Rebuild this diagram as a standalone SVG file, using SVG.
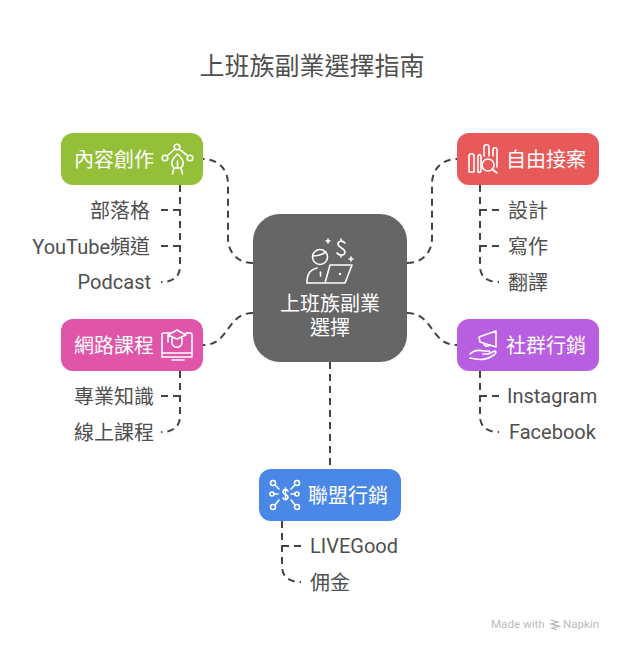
<svg xmlns="http://www.w3.org/2000/svg" width="624" height="652" viewBox="0 0 624 652">
<style>
text{font-family:Roboto,"Noto Sans CJK TC","Noto Sans CJK SC",sans-serif;font-size:20px}
.t{fill:#4f4f4f}
.w{fill:#fff;text-anchor:middle}
.e{text-anchor:end}
.c{fill:none;stroke:#444;stroke-width:2;stroke-dasharray:7 5}
.i{fill:none;stroke:#fff;stroke-width:1.6;stroke-linecap:round;stroke-linejoin:round}
</style>
<rect width="624" height="652" fill="#fff"/>
<text id="title" x="312" y="75" style="font-size:25px;text-anchor:middle" class="t">上班族副業選擇指南</text>
<g id="connectors">
<path class="c" d="M253 263C238 263 228 253 228 238V184C228 169 218 159 203 159"/>
<path class="c" d="M407 263C422 263 432 253 432 238V184C432 169 442 159 457 159"/>
<path class="c" d="M253 313C226 313 230 345 203 345"/>
<path class="c" d="M407 313C434 313 430 345 457 345"/>
<path class="c" d="M330 362V469"/>
<path class="c" d="M180 185V266C180 276 174 282 161 282"/>
<path class="c" d="M180 210H161"/>
<path class="c" d="M180 246H161"/>
<path class="c" d="M480 185V266C480 276 486 282 499 282"/>
<path class="c" d="M480 210H499"/>
<path class="c" d="M480 246H499"/>
<path class="c" d="M180 371V416C180 426 174 432 161 432"/>
<path class="c" d="M180 396H161"/>
<path class="c" d="M480 371V416C480 426 486 432 499 432"/>
<path class="c" d="M480 396H499"/>
<path class="c" d="M282 521V566C282 576 288 582 301 582"/>
<path class="c" d="M282 546H301"/>
</g>
<g id="center">
<rect x="253" y="214" width="154" height="148" rx="27" fill="#666"/>
<g class="i">
<circle cx="320" cy="257" r="7.500"/><path d="M313.500 256C319 256 323 254 326 252"/>
<path d="M307 283C307 275 309 270 317 268M320.500 272V276"/>
<path d="M307 283H345L352 265H330L325 283"/>
<path d="M345 243C342 240 338 241 338 244C338 248 345 248 345 252C345 256 339 256 337 253M341 239V241M341 255V257"/>
<path d="M328 239V243M326 241H330M351 257V261M349 259H353"/>
<circle cx="340" cy="274" r=".5"/>
</g>
<text class="w" x="330" y="311">上班族副業</text>
<text class="w" x="330" y="335">選擇</text>
</g>
<g id="n1">
<rect x="61" y="133" width="142" height="52" rx="12" fill="#94bf38"/>
<text class="w" x="114" y="167">內容創作</text>
<g class="i"><circle cx="177" cy="147" r="2.800"/><circle cx="165" cy="158" r="2.800"/><circle cx="190" cy="158" r="2.800"/><path d="M175 149L167 156M179 149L188 156M177.500 154C173 158 171 161 172 165L174 168H181L183 165C184 161 182 158 177.500 154ZM177.500 161V167M174 168L172.500 174M181 168L182.500 174"/></g>
</g>
<g id="n2">
<rect x="457" y="133" width="142" height="52" rx="12" fill="#e85a5a"/>
<text class="w" x="546" y="167">自由接案</text>
<g class="i"><circle cx="488" cy="165" r="6"/><path d="M492.500 169.500L497 173M469 156V172H474V156C474 153 469 153 469 156ZM478 172C480 173 481 172 481 170V157C481 154 478 154 478 157V172M484 156V147C484 144 489 144 489 147V156M493 156V150C493 147 497 147 497 150V167"/></g>
</g>
<g id="n3">
<rect x="61" y="319" width="142" height="52" rx="12" fill="#e055a8"/>
<text class="w" x="114" y="353">網路課程</text>
<g class="i"><path d="M170 333H163C162 333 162 334 162 335V357H192V335C192 334 192 333 191 333H186M162 353H192M172 360H184M177 330L168 335L177 339L186 335ZM172 338V342C172 349 182 349 182 342V338M168 335V342"/></g>
</g>
<g id="n4">
<rect x="457" y="319" width="142" height="52" rx="12" fill="#b85ee0"/>
<text class="w" x="546" y="353">社群行銷</text>
<g class="i"><path d="M479 337L496 331V347L480 342ZM479 337L480 342M484 343C484 347 489 347 489 345"/><path d="M470 354C474 350 480 350 484 351H489C491 352 490 354 488 354H483M488 354L495 351C497 352 495 354 494 355C488 359 482 361 470 358"/></g>
</g>
<g id="n5">
<rect x="259" y="469" width="142" height="52" rx="12" fill="#4a88e8"/>
<text class="w" x="348" y="503">聯盟行銷</text>
<g class="i"><circle cx="273" cy="483" r="2.500"/><circle cx="297" cy="483" r="2.500"/><circle cx="272" cy="494" r="2"/><circle cx="297" cy="494" r="2"/><circle cx="273" cy="507" r="2.500"/><circle cx="297" cy="507" r="2.500"/><path d="M275 485L279 489M295 485L291 489M274 494H278M295 494H291M275 505L279 500M295 505L291 500M288 491C287 489 283 489 283 492C283 495 288 494 288 497C288 500 284 500 283 498M285.500 488V500"/></g>
</g>
<g id="s1"><text class="t e" x="150" y="218">部落格</text></g>
<g id="s2"><text class="t e" x="150" y="253.500">YouTube頻道</text></g>
<g id="s3"><text class="t e" x="151" y="289">Podcast</text></g>
<g id="s4"><text class="t" x="508" y="218">設計</text></g>
<g id="s5"><text class="t" x="508" y="254">寫作</text></g>
<g id="s6"><text class="t" x="508" y="290">翻譯</text></g>
<g id="s7"><text class="t e" x="154" y="404">專業知識</text></g>
<g id="s8"><text class="t e" x="154" y="440">線上課程</text></g>
<g id="s9"><text class="t" x="507" y="403">Instagram</text></g>
<g id="s10"><text class="t" x="509" y="439">Facebook</text></g>
<g id="s11"><text class="t" x="310" y="553">LIVEGood</text></g>
<g id="s12"><text class="t" x="310" y="590">佣金</text></g>
<g id="footer">
<text x="491" y="628" style="font-size:11.600px;fill:#bbb">Made with</text>
<path d="M551 620L558 622L551 624L559 626L552 628L557 630" fill="none" stroke="#bbb" stroke-width="1.300"/>
<text x="563" y="628" style="font-size:11.600px;fill:#bbb">Napkin</text>
</g>
</svg>
